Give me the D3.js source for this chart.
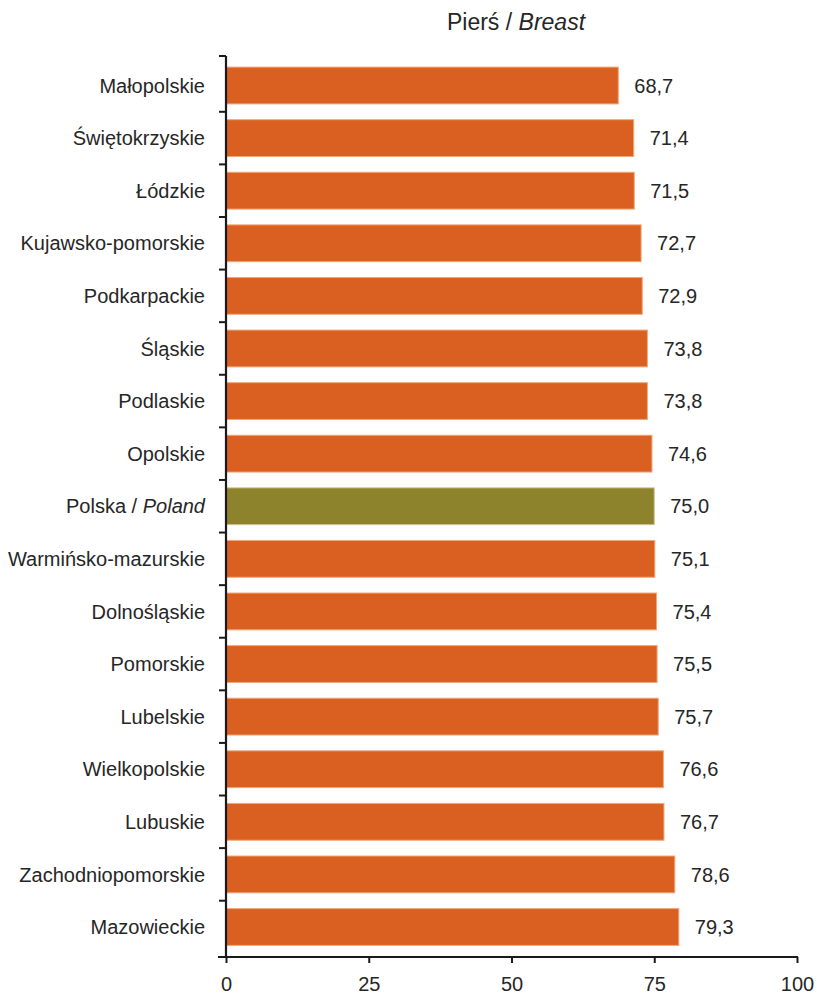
<!DOCTYPE html>
<html><head><meta charset="utf-8">
<script src="https://cdn.jsdelivr.net/npm/d3@7"></script>
<style>
body{margin:0;background:#fff;}
text{font-family:"Liberation Sans",Arial,sans-serif;fill:#262626;}
</style></head>
<body><svg id="c" width="817" height="997"></svg>
<script>
const categories = ["Małopolskie","Świętokrzyskie","Łódzkie","Kujawsko-pomorskie","Podkarpackie","Śląskie","Podlaskie","Opolskie","Polska / Poland","Warmińsko-mazurskie","Dolnośląskie","Pomorskie","Lubelskie","Wielkopolskie","Lubuskie","Zachodniopomorskie","Mazowieckie"];
const values = [68.7,71.4,71.5,72.7,72.9,73.8,73.8,74.6,75.0,75.1,75.4,75.5,75.7,76.6,76.7,78.6,79.3];
const xTicks = [0,25,50,75,100];
const highlight = "Polska / Poland";

const svg = d3.select("#c");
const axisTop = 56, axisBottom = 957;
const x = d3.scaleLinear().domain([0,100]).range([226, 797]);
const y = d3.scaleBand().domain(categories).range([59.2, 953.3]).paddingInner(0.3).paddingOuter(0.15);
const fs = 20;

// title
const t = svg.append("text").attr("x", 516).attr("y", 30).attr("text-anchor","middle").attr("font-size", 23);
t.append("tspan").text("Pierś / ");
t.append("tspan").attr("font-style","italic").text("Breast");

// bars
svg.selectAll("rect.bar").data(categories).enter().append("rect")
  .attr("x", x(0)).attr("y", d => y(d))
  .attr("width", (d,i) => x(values[i]) - x(0)).attr("height", y.bandwidth())
  .attr("fill", d => d === highlight ? "#8E832D" : "#D96020")
  .attr("stroke", d => d === highlight ? "#CFC790" : "#F2A777").attr("stroke-width", 1);

// value labels
svg.selectAll("text.val").data(categories).enter().append("text")
  .attr("x", (d,i) => x(values[i]) + 16).attr("y", d => y(d) + y.bandwidth()/2)
  .attr("dy","0.36em").attr("font-size", fs)
  .text((d,i) => values[i].toFixed(1).replace(".", ","));

// category labels
svg.selectAll("text.cat").data(categories).enter().append("text")
  .attr("x", 205).attr("y", d => y(d) + y.bandwidth()/2)
  .attr("dy","0.36em").attr("text-anchor","end").attr("font-size", fs)
  .each(function(d){
    const s = d3.select(this);
    if (d === highlight) {
      s.append("tspan").text("Polska / ");
      s.append("tspan").attr("font-style","italic").text("Poland");
    } else s.text(d);
  });

// y axis line and boundary ticks
const axisCol = "#1a1a1a";
svg.append("line").attr("x1", x(0)).attr("x2", x(0)).attr("y1", axisTop).attr("y2", axisBottom)
  .attr("stroke", axisCol).attr("stroke-width", 2.2);
const bounds = [axisTop].concat(categories.slice(1).map(d => y(d) - y.step()*y.paddingInner()/2), [axisBottom]);
svg.selectAll("line.yt").data(bounds).enter().append("line")
  .attr("x1", x(0) - 7).attr("x2", x(0)).attr("y1", d => d).attr("y2", d => d)
  .attr("stroke", axisCol).attr("stroke-width", 2);

// x axis
const xa = svg.append("g").attr("transform", `translate(0,${axisBottom})`)
  .call(d3.axisBottom(x).tickValues(xTicks).tickSize(6).tickPadding(14));
xa.select(".domain").attr("stroke", axisCol).attr("stroke-width", 2.2).attr("d", `M${x(0)-8},0H${x(100)+1}`);
xa.selectAll(".tick line").attr("stroke", axisCol).attr("stroke-width", 2);
xa.selectAll(".tick text").attr("font-size", fs).attr("fill","#262626")
  .style("font-family", '"Liberation Sans",Arial,sans-serif');
</script></body></html>
